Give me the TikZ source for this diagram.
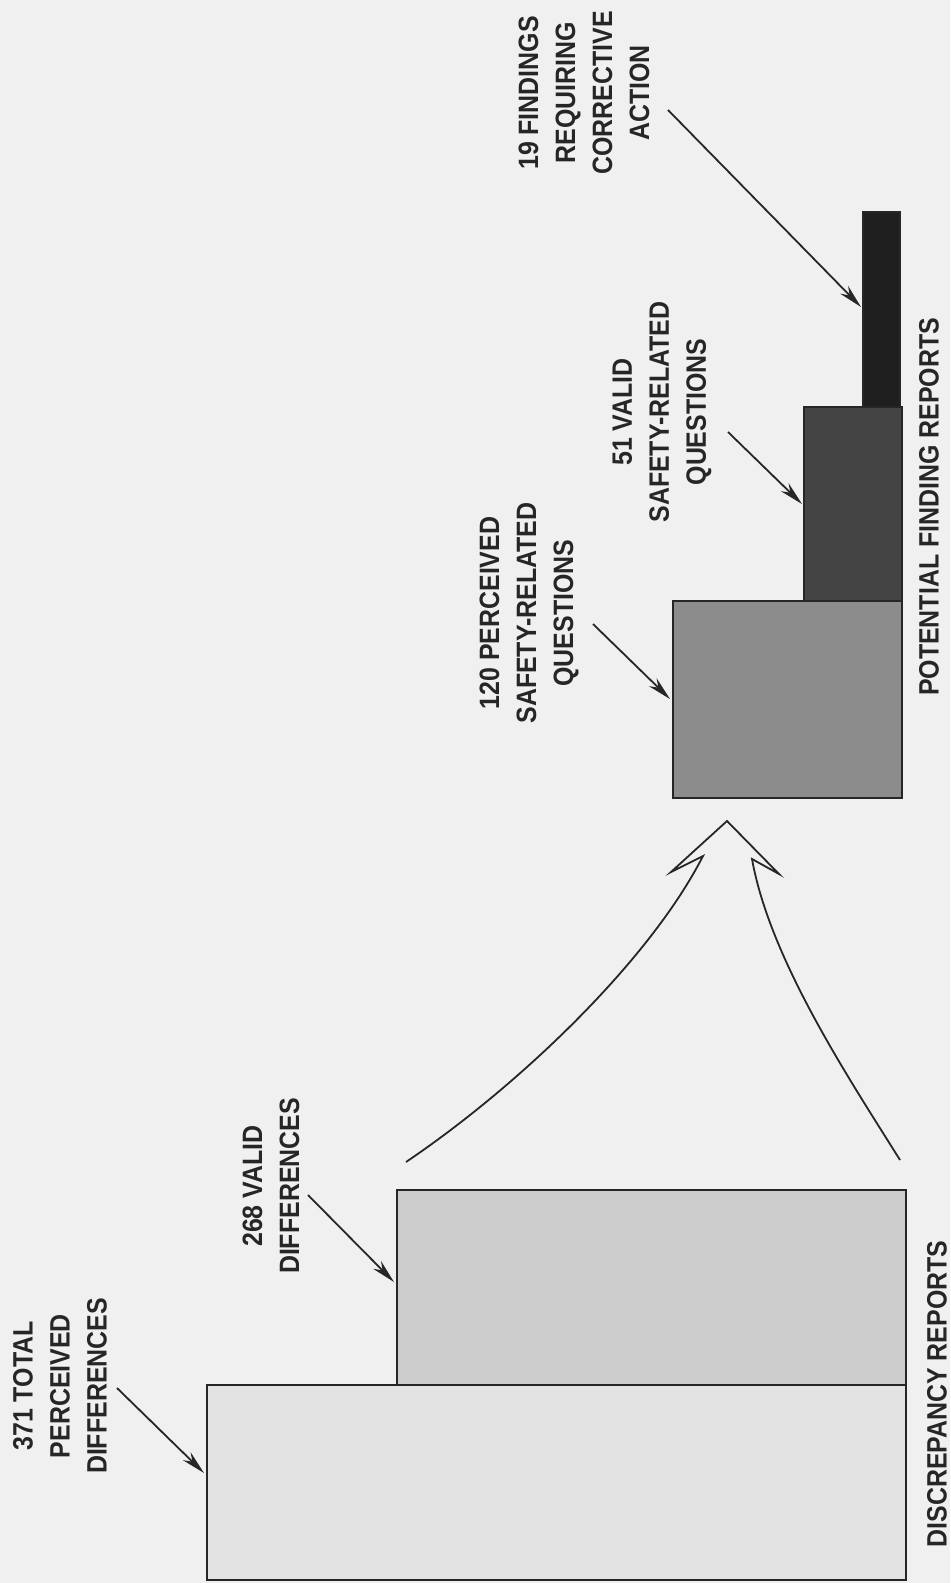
\documentclass[tikz,border=0pt]{standalone}
\usepackage{fontspec}
\setmainfont{Liberation Sans}[FakeStretch=0.89]
\usetikzlibrary{arrows.meta,fit}
\definecolor{paper}{HTML}{F0F0F0}
\definecolor{barA}{HTML}{E3E3E3}
\definecolor{barB}{HTML}{CDCDCD}
\definecolor{barC}{HTML}{8C8C8C}
\definecolor{barD}{HTML}{444444}
\definecolor{barE}{HTML}{1F1F1F}
\tikzset{
  bar/.style={draw=black!85, line width=1pt, inner sep=0pt, rectangle},
  lbl/.style={rotate=90, align=center, inner sep=0pt, font=\fontsize{14}{18.5}\selectfont\bfseries, text=black!85},
  ptr/.style={draw=black!85, line width=0.9pt, -{Stealth[length=12pt,width=5.5pt]}},
  bigarrow/.style={draw=black!85, line width=0.9pt, line join=miter}
}
\begin{document}
\begin{tikzpicture}[x=0.5pt,y=-0.5pt]
\fill[paper] (0,0) rectangle (950,1583);
\useasboundingbox (0,0) rectangle (950,1583);

% bars
\node[bar, fill=barA, fit={(207,1385) (906,1580)}] (b1) {};
\node[bar, fill=barB, fit={(397,1190) (906,1385)}] (b2) {};
\node[bar, fill=barC, fit={(673,601) (902,798)}] (b3) {};
\node[bar, fill=barD, fit={(804,407) (902,601)}] (b4) {};
\node[bar, fill=barE, fit={(863,212) (900,407)}] (b5) {};

% labels
\node[lbl] (l371) at (60,1386) {371 TOTAL\\PERCEIVED\\DIFFERENCES};
\node[lbl] (l268) at (271,1186) {268 VALID\\DIFFERENCES};
\node[lbl] (l120) at (529,613) {120 PERCEIVED\\SAFETY-RELATED\\QUESTIONS};
\node[lbl] (l51) at (662,412) {51 VALID\\SAFETY-RELATED\\QUESTIONS};
\node[lbl] (l19) at (584,93) {19 FINDINGS\\REQUIRING\\CORRECTIVE\\ACTION};
\node[lbl] (ldr) at (937,1394) {DISCREPANCY REPORTS};
\node[lbl] (lpf) at (929,507) {POTENTIAL FINDING REPORTS};

% pointer arrows
\coordinate (s371) at (117,1388);
\coordinate (t371) at (204,1473);
\coordinate (s268) at (308,1195);
\coordinate (t268) at (394,1282);
\coordinate (s120) at (593,624);
\coordinate (t120) at (670,699);
\coordinate (s51) at (728,432);
\coordinate (t51) at (802,504);
\coordinate (s19) at (668,110);
\coordinate (t19) at (861,307);
\draw[ptr] (s371) -- (t371);
\draw[ptr] (s268) -- (t268);
\draw[ptr] (s120) -- (t120);
\draw[ptr] (s51) -- (t51);
\draw[ptr] (s19) -- (t19);

% big open arrow
\coordinate (cL) at (406,1162);
\coordinate (iL) at (703,856);
\coordinate (bL) at (671,872);
\coordinate (apex) at (727,821);
\coordinate (bR) at (779,874);
\coordinate (iR) at (752,859);
\coordinate (cR) at (900,1160);
\draw[bigarrow] (cL) .. controls (520,1085) and (650,960) .. (iL) -- (bL) -- (apex) -- (bR) -- (iR) .. controls (770,960) and (850,1080) .. (cR);
\end{tikzpicture}
\end{document}
